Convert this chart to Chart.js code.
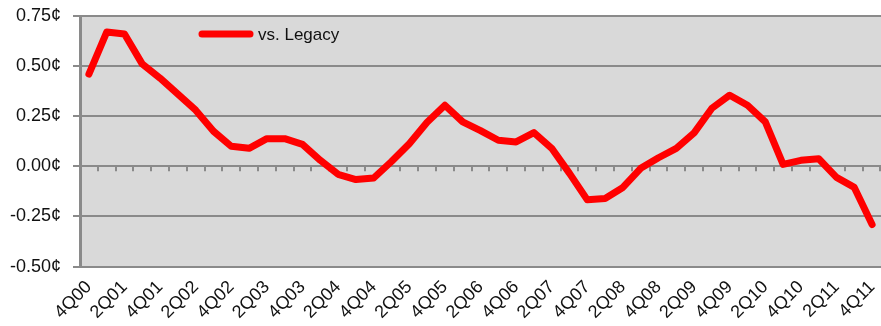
<!DOCTYPE html>
<html>
<head>
<meta charset="utf-8">
<script src="https://cdn.jsdelivr.net/npm/chart.js@4/dist/chart.umd.min.js"></script>
<style>
  html, body { margin: 0; padding: 0; background: #fff; }
  #wrap { width: 881px; height: 326px; }
</style>
</head>
<body>
<div id="wrap"><canvas id="chart"></canvas></div>
<script>
// Trimestres de 4Q00 a 4Q11
const quarters = [
  '4Q00',
  '1Q01', '2Q01', '3Q01', '4Q01',
  '1Q02', '2Q02', '3Q02', '4Q02',
  '1Q03', '2Q03', '3Q03', '4Q03',
  '1Q04', '2Q04', '3Q04', '4Q04',
  '1Q05', '2Q05', '3Q05', '4Q05',
  '1Q06', '2Q06', '3Q06', '4Q06',
  '1Q07', '2Q07', '3Q07', '4Q07',
  '1Q08', '2Q08', '3Q08', '4Q08',
  '1Q09', '2Q09', '3Q09', '4Q09',
  '1Q10', '2Q10', '3Q10', '4Q10',
  '1Q11', '2Q11', '3Q11', '4Q11'
]

// Diferença em centavos vs. Legacy
const vsLegacy = [
  0.46,
  0.67, 0.66, 0.51, 0.44,
  0.36, 0.28, 0.175, 0.10,
  0.09, 0.138, 0.138, 0.11,
  0.03, -0.04, -0.066, -0.058,
  0.024, 0.113, 0.22, 0.305,
  0.222, 0.178, 0.13, 0.122,
  0.168, 0.09, -0.035, -0.167,
  -0.16, -0.105, -0.01, 0.043,
  0.09, 0.167, 0.29, 0.355,
  0.305, 0.222, 0.01, 0.03,
  0.038, -0.055, -0.105, -0.29
]

const yTicks = [-0.5, -0.25, 0, 0.25, 0.5, 0.75]

const gridColor = '#8a8a8a'
const lineColor = '#ff0000'
const fontFamily = '"Liberation Sans", Arial, sans-serif'

// Fundo cinza da área do gráfico + marcas do eixo X sobre a linha do zero
const plotArea = {
  id: 'plotArea',
  beforeDraw(chart) {
    const { ctx, chartArea: a } = chart
    ctx.save()
    ctx.fillStyle = '#d9d9d9'
    ctx.fillRect(a.left, a.top, a.right - a.left, a.bottom - a.top)
    ctx.restore()
  },
  beforeDatasetsDraw(chart) {
    const { ctx, scales } = chart
    const x = scales.x
    const y0 = scales.y.getPixelForValue(0)
    const last = quarters.length - 1
    ctx.save()
    ctx.strokeStyle = gridColor
    ctx.lineWidth = 2
    ctx.beginPath()
    for (let i = 1; i <= last; i++) {
      const px = Math.round((x.getPixelForValue(i - 1) + x.getPixelForValue(i)) / 2)
      ctx.moveTo(px, y0)
      ctx.lineTo(px, y0 + 5)
    }
    ctx.moveTo(x.right - 1, y0)
    ctx.lineTo(x.right - 1, y0 + 5)
    ctx.stroke()
    ctx.restore()
  }
}

// Legenda desenhada dentro da área do gráfico
const innerLegend = {
  id: 'innerLegend',
  afterDraw(chart) {
    const { ctx, chartArea: a } = chart
    const ds = chart.data.datasets[0]
    const lx = a.left + 122
    const ly = a.top + 18
    ctx.save()
    ctx.strokeStyle = ds.borderColor
    ctx.lineWidth = 7
    ctx.lineCap = 'round'
    ctx.beginPath()
    ctx.moveTo(lx, ly)
    ctx.lineTo(lx + 48, ly)
    ctx.stroke()
    ctx.fillStyle = '#111'
    ctx.font = '17px ' + fontFamily
    ctx.textBaseline = 'middle'
    ctx.fillText(ds.label, lx + 56, ly + 1)
    ctx.restore()
  }
}

new Chart(document.getElementById('chart'), {
  type: 'line',
  data: {
    labels: quarters,
    datasets: [{
      label: 'vs. Legacy',
      data: vsLegacy,
      borderColor: lineColor,
      backgroundColor: lineColor,
      borderWidth: 7,
      borderJoinStyle: 'round',
      borderCapStyle: 'round',
      pointRadius: 0,
      tension: 0
    }]
  },
  options: {
    responsive: true,
    maintainAspectRatio: false,
    animation: false,
    layout: {
      padding: { top: 16, right: 0, bottom: 1, left: 0 }
    },
    plugins: {
      legend: { display: false },
      tooltip: { enabled: false }
    },
    scales: {
      x: {
        offset: true,
        grid: { display: false },
        border: { display: false },
        afterFit: (axis) => {
          // rótulos inclinados não precisam de margem lateral
          axis.paddingLeft = 0
          axis.paddingRight = 0
        },
        ticks: {
          autoSkip: false,
          maxRotation: 45,
          minRotation: 45,
          padding: 2,
          color: '#111',
          font: { family: fontFamily, size: 18 },
          callback: (value, index) => index % 2 === 0 ? quarters[index] : ''
        }
      },
      y: {
        min: -0.5,
        max: 0.75,
        afterBuildTicks: (axis) => {
          axis.ticks = yTicks.map(v => ({ value: v }))
        },
        afterFit: (axis) => {
          axis.width = 80
          axis.paddingTop = 0
          axis.paddingBottom = 0
        },
        grid: {
          color: gridColor,
          lineWidth: 2,
          tickLength: 7,
          drawTicks: true
        },
        border: { color: gridColor, width: 3 },
        ticks: {
          padding: 12,
          color: '#111',
          font: { family: fontFamily, size: 18 },
          callback: (value) => value.toFixed(2) + '¢'
        }
      }
    }
  },
  plugins: [plotArea, innerLegend]
})
</script>
</body>
</html>
